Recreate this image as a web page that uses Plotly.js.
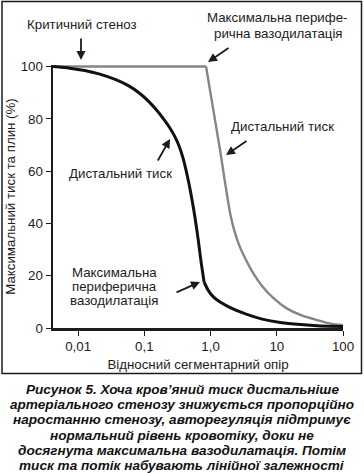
<!DOCTYPE html>
<html>
<head>
<meta charset="utf-8">
<script src="https://cdn.plot.ly/plotly-3.0.1.min.js"></script>
<style>
  html, body { margin: 0; padding: 0; background: #fff; }
  #chart { width: 364px; height: 473px; }
</style>
</head>
<body>
<div id="chart"></div>
<script>
// ---- data ----
const blackUpperX = [0.00418, 0.00743, 0.01254, 0.0212, 0.037, 0.0582, 0.0855, 0.117, 0.155, 0.197, 0.243, 0.29, 0.333, 0.383, 0.425, 0.472, 0.525, 0.582, 0.647, 0.718, 0.797];
const blackUpperY = [100, 99.4, 98.5, 97.1, 95.0, 92.6, 89.7, 86.6, 83.2, 79.8, 76.5, 73.1, 69.7, 65.1, 60.5, 55.2, 49.0, 42.2, 34.2, 25.4, 17.6];
const blackLowerX = [0.797, 0.917, 1.091, 1.393, 1.974, 3.45, 6.03, 11.3, 22.7, 45.6, 100];
const blackLowerY = [17.6, 14.5, 12.0, 9.9, 7.8, 5.3, 3.4, 2.1, 1.3, 0.8, 0.6];
const grayFlatX = [0.00418, 0.855];
const grayFlatY = [100, 100];
const grayDropX = [0.855, 0.949, 1.054, 1.17, 1.30, 1.44, 1.60, 1.78, 1.97, 2.25, 2.68, 3.33, 4.40, 6.03, 8.85, 13.9, 22.7, 39.6, 64.6, 100];
const grayDropY = [100, 93.1, 86.3, 79.4, 72.5, 65.6, 58.0, 50.6, 44.0, 37.8, 31.9, 26.7, 21.0, 16.0, 11.5, 7.6, 5.0, 3.1, 1.7, 1.1];

const xTickVals = [0.01, 0.1, 1, 10, 100];
const xTickText = ['0,01', '0,1', '1,0', '10', '100'];
const yTickVals = [0, 20, 40, 60, 80, 100];

const xTitle = 'Відносний сегментарний опір';
const yTitle = 'Максимальний тиск та плин (%)';
const captionLines = [
  'Рисунок 5. Хоча кров’яний тиск дистальніше',
  'артеріального стенозу знижується пропорційно',
  'наростанню стенозу, авторегуляція підтримує',
  'нормальний рівень кровотіку, доки не',
  'досягнута максимальна вазодилатація. Потім',
  'тиск та потік набувають лінійної залежності'
];

// ---- layout geometry ----
const W = 364, H = 473;
const M = {l: 53, r: 21, t: 65, b: 145};
const PW = W - M.l - M.r, PH = H - M.t - M.b;
const px = x => (x - M.l) / PW;
const py = y => (H - M.b - y) / PH;

const TXT = '#1f1b1c';
const FONT = 'Liberation Sans, Arial, Helvetica, sans-serif';

const blackLine = {color: '#111111', width: 3, shape: 'spline', smoothing: 0.6};
const grayLine = {color: '#858585', width: 2.4, shape: 'spline', smoothing: 0.7};

const traces = [
  {x: grayFlatX, y: grayFlatY, mode: 'lines', line: {color: '#858585', width: 2.4}, hoverinfo: 'skip'},
  {x: grayDropX, y: grayDropY, mode: 'lines', line: grayLine, hoverinfo: 'skip'},
  {x: blackUpperX, y: blackUpperY, mode: 'lines', line: blackLine, hoverinfo: 'skip'},
  {x: blackLowerX, y: blackLowerY, mode: 'lines', line: blackLine, hoverinfo: 'skip'}
];

function label(text, x, y) {
  return {text: text, xref: 'paper', yref: 'paper', x: px(x), y: py(y),
          xanchor: 'center', yanchor: 'middle', showarrow: false,
          font: {family: FONT, size: 13.3, color: TXT}};
}
function arrow(tipX, tipY, ax, ay) {
  return {text: '', xref: 'paper', yref: 'paper', x: px(tipX), y: py(tipY),
          ax: ax, ay: ay, showarrow: true, arrowhead: 2, arrowsize: 1,
          arrowwidth: 1.8, arrowcolor: TXT};
}

const annotations = [
  label('Критичний стеноз', 82, 24),
  label('Максимальна перифе-', 277, 18),
  label('рична вазодилатація', 278, 33),
  label('Дистальний тиск', 282, 126),
  label('Дистальний тиск', 120, 173),
  label('Максимальна', 114, 272),
  label('периферична', 114, 286),
  label('вазодилатація', 114, 300),
  arrow(81, 60, 0, -23),
  arrow(208, 62, 22, -15),
  arrow(226, 155, 22, -15),
  arrow(170, 139, -13, 23),
  arrow(200, 282, -25, 11)
];
const capY = [389, 404, 419.5, 435, 450, 465];
captionLines.forEach((t, i) => {
  annotations.push({text: '<b><i>' + t + '</i></b>', xref: 'paper', yref: 'paper',
    x: px(182), y: py(capY[i]), xanchor: 'center', yanchor: 'middle', showarrow: false,
    font: {family: FONT, size: 13.6, color: '#141112'}});
});

const layout = {
  width: W, height: H,
  margin: M,
  paper_bgcolor: '#ffffff', plot_bgcolor: '#ffffff',
  showlegend: false,
  font: {family: FONT, size: 13, color: TXT},
  xaxis: {
    type: 'log', range: [-2.38, 2.0],
    tickvals: xTickVals, ticktext: xTickText,
    ticks: 'outside', ticklen: 5, tickwidth: 1, tickcolor: TXT,
    showline: true, linewidth: 2.5, linecolor: TXT,
    showgrid: false, zeroline: false,
    tickfont: {family: FONT, size: 13.3, color: TXT},
    title: {text: xTitle, font: {family: FONT, size: 13.3, color: TXT}, standoff: 6}
  },
  yaxis: {
    range: [0, 100.6],
    tickvals: yTickVals,
    ticks: 'outside', ticklen: 5, tickwidth: 1, tickcolor: TXT,
    showline: true, linewidth: 2.5, linecolor: TXT,
    showgrid: false, zeroline: false,
    tickfont: {family: FONT, size: 13.3, color: TXT},
    title: {text: yTitle, font: {family: FONT, size: 13.3, color: TXT}, standoff: 2}
  },
  shapes: [{
    type: 'rect', xref: 'paper', yref: 'paper',
    x0: px(2), x1: px(361.5), y0: py(373.5), y1: py(1.5),
    line: {color: TXT, width: 1.5}, fillcolor: 'rgba(0,0,0,0)'
  }],
  annotations: annotations
};

Plotly.newPlot('chart', traces, layout, {displayModeBar: false, staticPlot: true});
</script>
</body>
</html>
